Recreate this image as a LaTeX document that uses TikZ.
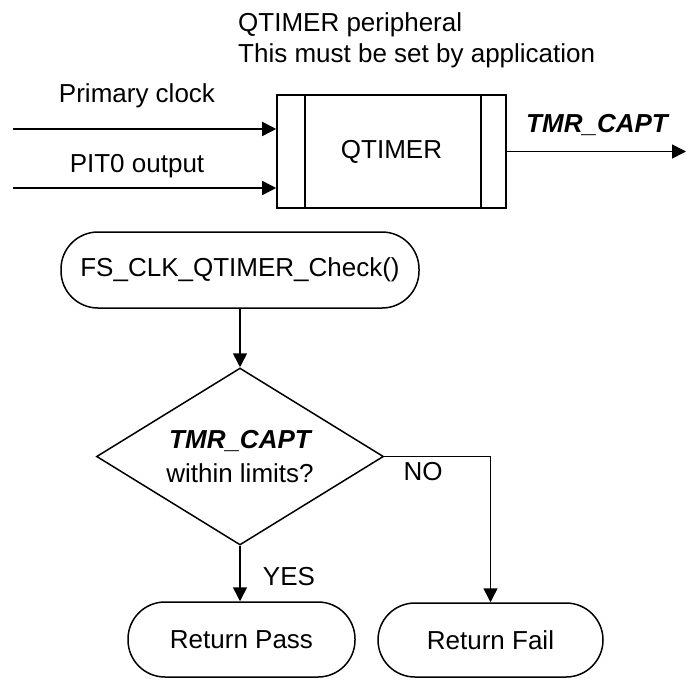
\documentclass[tikz,border=0pt]{standalone}
\usepackage{fontspec}
\setmainfont{Liberation Sans}
\usetikzlibrary{arrows.meta,shapes.geometric}
\begin{document}
\begin{tikzpicture}[x=1pt,y=-1pt,
  every node/.style={font=\fontsize{26}{33}\selectfont, text=black},
  txt/.style={inner sep=0pt, anchor=base},
  line/.style={line width=1.6pt, draw=black},
  arr/.style={line, -{Triangle[length=14pt,width=14pt]}},
  stadium/.style={draw=black, line width=1.5pt, rounded corners=37pt, inner sep=0pt},
  bold/.style={font=\fontsize{26}{33}\selectfont\bfseries\itshape}
]
\useasboundingbox (0,0) rectangle (687,679);

% header text
\node[txt, anchor=base west] (h1) at (238,32) {QTIMER peripheral};
\node[txt, anchor=base west] (h2) at (238,63) {This must be set by application};

% QTIMER box
\node[draw=black, line width=1.6pt, minimum width=229pt, minimum height=113pt, inner sep=0pt] (q) at (391.5,151.5) {QTIMER};
\draw[line] ([xshift=29pt]q.north west) -- ([xshift=29pt]q.south west);
\draw[line] ([xshift=-26pt]q.north east) -- ([xshift=-26pt]q.south east);

% inputs
\coordinate (in1) at (13,129);
\coordinate (in2) at (13,188);
\draw[arr] (in1) -- (in1 -| q.west);
\draw[arr] (in2) -- (in2 -| q.west);
\node[txt] (l1) at (137,103) {Primary clock};
\node[txt] (l2) at (137,172) {PIT0 output};

% output
\coordinate (out) at (686,151.5);
\draw[arr] (q.east) -- (out);
\node[txt, bold] (lo) at (597,133) {TMR\_CAPT};

% flowchart
\node[stadium, minimum width=358pt, minimum height=76pt] (fs) at (240,270) {FS\_CLK\_QTIMER\_Check()};
\node[diamond, draw=black, line width=1.5pt, minimum width=287pt, minimum height=177pt, aspect=1.62, inner sep=0pt, align=center] (dec) at (240,456.5)
  {{\bfseries\itshape TMR\_CAPT}\\[1pt]within limits?};
\draw[arr] (fs.south) -- (dec.north);

\node[stadium, minimum width=227pt, minimum height=75pt] (pass) at (241.5,639.5) {Return Pass};
\node[stadium, minimum width=225pt, minimum height=74pt] (fail) at (490.5,640) {Return Fail};

\draw[arr] (dec.south) -- (dec.south |- pass.north);
\draw[arr] (dec.east) -| (fail.north);

\node[txt] (yes) at (289,585) {YES};
\node[txt] (no) at (423,480) {NO};
\end{tikzpicture}
\end{document}
